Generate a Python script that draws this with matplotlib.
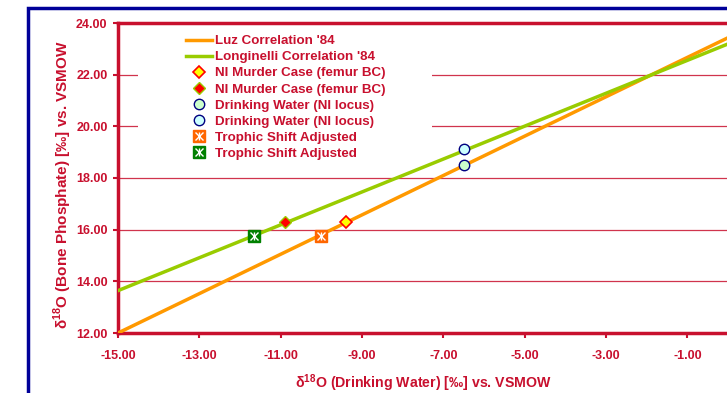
import matplotlib
matplotlib.use("Agg")
import matplotlib.pyplot as plt
from matplotlib.patches import Rectangle

plt.rcParams['font.family'] = ['Liberation Sans', 'DejaVu Sans']
plt.rcParams['mathtext.fontset'] = 'custom'
plt.rcParams['mathtext.bf'] = 'Liberation Sans:bold'
plt.rcParams['mathtext.rm'] = 'Liberation Sans'

# ---- data ----
line_x = [-15.0, 0.0]
luz_y = [12.0, 23.43]
longinelli_y = [13.64, 23.19]

murder_yellow_x = [-9.4]
murder_yellow_y = [16.3]
murder_red_x = [-10.9]
murder_red_y = [16.3]

water_green_x = [-6.5]
water_green_y = [18.5]
water_cyan_x = [-6.5]
water_cyan_y = [19.12]

trophic_orange_x = [-10.0]
trophic_orange_y = [15.75]
trophic_green_x = [-11.65]
trophic_green_y = [15.75]

x_ticks = [-15, -13, -11, -9, -7, -5, -3, -1]
y_ticks = [12, 14, 16, 18, 20, 22, 24]

legend_labels = ["Luz Correlation '84", "Longinelli Correlation '84",
                 "NI Murder Case (femur BC)", "NI Murder Case (femur BC)",
                 "Drinking Water (NI locus)", "Drinking Water (NI locus)",
                 "Trophic Shift Adjusted", "Trophic Shift Adjusted"]

RED = '#C8102E'
NAVY = '#000099'

W, H = 727, 393
fig = plt.figure(figsize=(W / 100, H / 100), dpi=100)
fig.patch.set_facecolor('white')

# blue outer frame
fig.patches.append(Rectangle((28 / W, -0.2), 1.2, 1.2 - 8 / H, transform=fig.transFigure,
                             fill=False, edgecolor=NAVY, lw=2.5, clip_on=False))

ax = fig.add_axes([118 / W, 1 - 333 / H, (728 - 118) / W, (333 - 23) / H])
ax.set_xlim(-15, 0)
ax.set_ylim(12, 24)

for s in ['left', 'bottom', 'top']:
    ax.spines[s].set_color(RED)
    ax.spines[s].set_linewidth(2.5)
ax.spines['right'].set_visible(False)

ax.set_yticks(y_ticks)
ax.set_xticks(x_ticks)
ax.set_yticklabels([f"{v:.2f}" for v in y_ticks])
ax.set_xticklabels([f"{v:.2f}" for v in x_ticks])
ax.tick_params(axis='both', colors=RED, width=1.5, length=3.5, labelsize=9)
ax.tick_params(axis='y', pad=4)
ax.tick_params(axis='x', pad=8.5)
for lab in ax.get_xticklabels() + ax.get_yticklabels():
    lab.set_fontweight('bold')

ax.yaxis.grid(True, color=RED, lw=0.9, alpha=0.85, zorder=0)
ax.set_axisbelow(True)

# white legend background hiding gridlines
ax.add_patch(Rectangle(((138 - 118) / 610, (333 - 165) / 310), (432 - 138) / 610, (165 - 27) / 310,
                       transform=ax.transAxes, facecolor='white', edgecolor='none', zorder=1))

l1, = ax.plot(line_x, luz_y, color='#FF9900', lw=2.5, zorder=3)
l2, = ax.plot(line_x, longinelli_y, color='#99CC00', lw=2.5, zorder=3)

m1, = ax.plot(murder_yellow_x, murder_yellow_y, ls='none', marker='D', ms=6.5,
              mfc='#FFFF00', mec='#FF0000', mew=1.2, zorder=5)
m2, = ax.plot(murder_red_x, murder_red_y, ls='none', marker='D', ms=6.5,
              mfc='#FF0000', mec='#99CC00', mew=1.0, zorder=5)
c1, = ax.plot(water_green_x, water_green_y, ls='none', marker='o', ms=7.5,
              mfc='#CCFFCC', mec='#000080', mew=1.0, zorder=5)
c2, = ax.plot(water_cyan_x, water_cyan_y, ls='none', marker='o', ms=7.5,
              mfc='#CCFFFF', mec='#000080', mew=1.0, zorder=5)


def star_square(xs, ys, color):
    sq, = ax.plot(xs, ys, ls='none', marker='s', ms=8.5, mfc=color, mec=color, zorder=5)
    xx, = ax.plot(xs, ys, ls='none', marker='x', ms=6, mec='white', mew=1.0, zorder=6)
    vv, = ax.plot(xs, ys, ls='none', marker='|', ms=6, mec='white', mew=1.0, zorder=6)
    return (sq, xx, vv)


t1 = star_square(trophic_orange_x, trophic_orange_y, '#FF6600')
t2 = star_square(trophic_green_x, trophic_green_y, '#008000')

handles = [l1, l2, m1, m2, c1, c2, t1, t2]
leg = fig.legend(handles, legend_labels, loc='upper left', bbox_to_anchor=(186 / W, 1 - 35 / H),
                 frameon=False, handlelength=1.95, handletextpad=0.25,
                 borderpad=0, borderaxespad=0, labelspacing=0.28,
                 prop={'weight': 'bold', 'size': 9.6})
for t in leg.get_texts():
    t.set_color(RED)

ax.set_xlabel(r"δ$^{\mathbf{18}}$O (Drinking Water) [‰] vs. VSMOW", color=RED,
              fontweight='bold', fontsize=10.2)
ax.xaxis.set_label_coords(0.5, (333 - 383) / 310)
ax.xaxis.label.set_va('center')
ax.set_ylabel(r"δ$^{\mathbf{18}}$O (Bone Phosphate) [‰] vs. VSMOW", color=RED,
              fontweight='bold', fontsize=11)
ax.yaxis.set_label_coords((63 - 118) / 610, (333 - 185) / 310)
ax.yaxis.label.set_va('center')

fig.savefig('out.png', dpi=100)
